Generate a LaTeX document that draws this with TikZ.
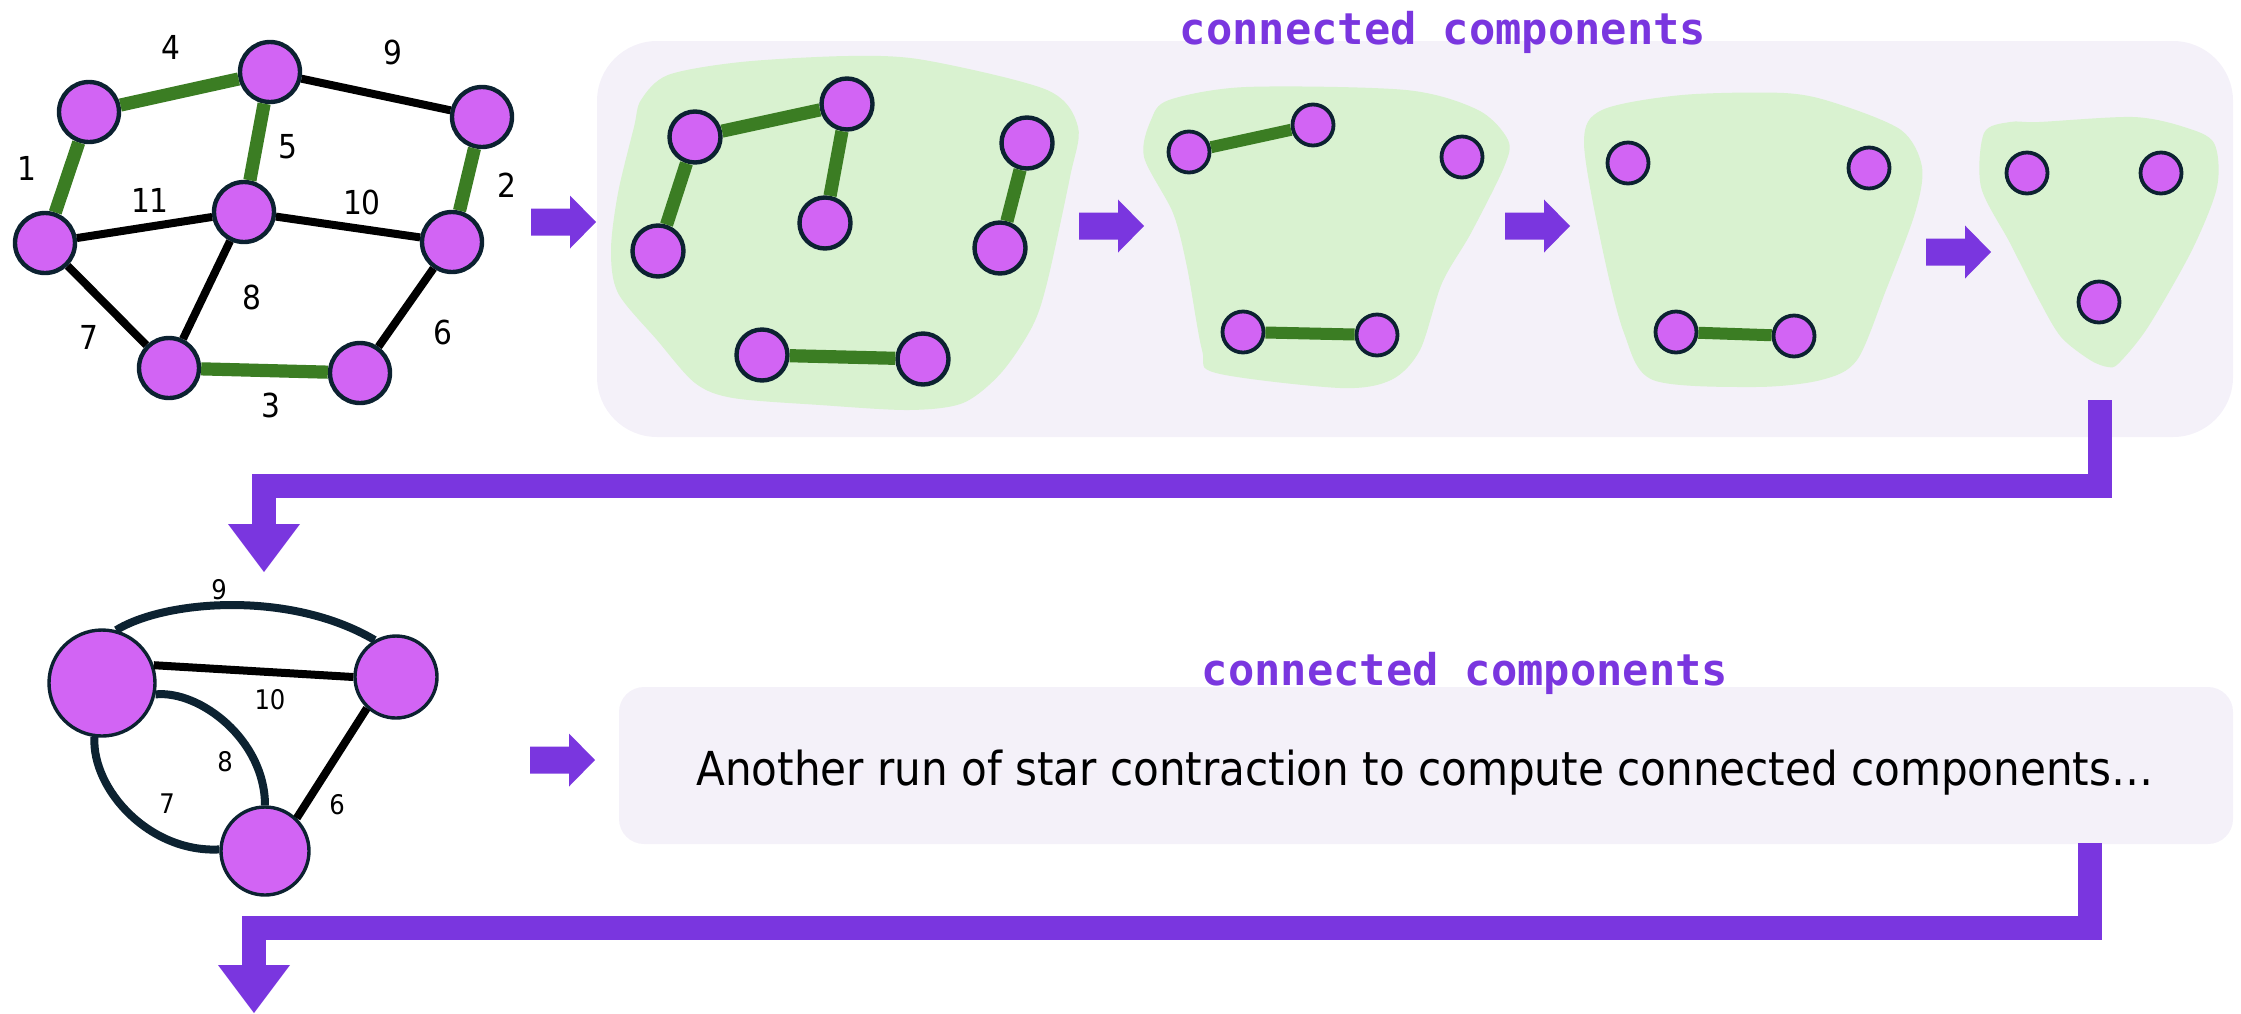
\documentclass[tikz,border=0pt]{standalone}
\usepackage{fontspec}
\setmainfont{DejaVu Sans Condensed}
\newfontfamily\codefont{DejaVu Sans Mono}
\usetikzlibrary{arrows.meta}

\definecolor{vfill}{HTML}{D264F4}
\definecolor{vline}{HTML}{0C2231}
\definecolor{tree}{HTML}{3B7D23}
\definecolor{blobc}{HTML}{D9F2D0}
\definecolor{panelc}{HTML}{F4F1F9}
\definecolor{flow}{HTML}{7A36DF}

\tikzset{
  rarrow/.pic={\fill[flow] (0,-13.5) -- (39,-13.5) -- (39,-26.5) -- (65,0) -- (39,26.5) -- (39,13.5) -- (0,13.5) -- cycle;}
}

\begin{document}
\begin{tikzpicture}[x=0.5pt,y=-0.5pt,
  vtx/.style={circle,fill=vfill,draw=vline,line width=2.2pt,inner sep=0pt,minimum size=30pt},
  vsm/.style={vtx,minimum size=25.5pt},
  vxs/.style={vtx,line width=1.9pt,minimum size=20.5pt},
  tedge/.style={draw=tree,line width=6.6pt},
  tedgesm/.style={draw=tree,line width=6pt},
  gedge/.style={draw=black,line width=4pt},
  cedge/.style={draw=vline,line width=4pt},
  wlabel/.style={font=\fontsize{16.5pt}{19pt}\selectfont,inner sep=0pt},
  wlabelsm/.style={font=\fontsize{13.5pt}{16pt}\selectfont,inner sep=0pt},
  blob/.style={fill=blobc},
  panel/.style={fill=panelc},
  flowarrow/.style={draw=flow,line width=12pt,line join=miter,
    -{Triangle[width=36pt,length=24pt,line width=0pt]}},
  title/.style={text=flow,font=\codefont\bfseries\fontsize{21.85pt}{26pt}\selectfont,
    anchor=base,inner sep=0pt},
]
\useasboundingbox (0,0) rectangle (2241,1013);

% ---------- input graph ----------
\node[vtx] (a1) at (89,112) {};
\node[vtx] (a2) at (270,72) {};
\node[vtx] (a3) at (482,117) {};
\node[vtx] (a4) at (45,243) {};
\node[vtx] (a5) at (244,212) {};
\node[vtx] (a6) at (452,242) {};
\node[vtx] (a7) at (169,368) {};
\node[vtx] (a8) at (360,373) {};

\draw[tedge] (a1) -- (a2);
\draw[gedge] (a2) -- (a3);
\draw[tedge] (a1) -- (a4);
\draw[tedge] (a2) -- (a5);
\draw[tedge] (a3) -- (a6);
\draw[gedge] (a4) -- (a5);
\draw[gedge] (a5) -- (a6);
\draw[gedge] (a4) -- (a7);
\draw[gedge] (a5) -- (a7);
\draw[tedge] (a7) -- (a8);
\draw[gedge] (a6) -- (a8);

\node[wlabel] (w4) at (171,47) {4};
\node[wlabel] (w9) at (393,52) {9};
\node[wlabel] (w1) at (27,168) {1};
\node[wlabel] (w5) at (288,147) {5};
\node[wlabel] (w2) at (507,185) {2};
\node[wlabel] (w11) at (150,200) {11};
\node[wlabel] (w10) at (362,202) {10};
\node[wlabel] (w7) at (89,337) {7};
\node[wlabel] (w8) at (252,297) {8};
\node[wlabel] (w3) at (271,405) {3};
\node[wlabel] (w6) at (443,332) {6};

\pic at (531,222) {rarrow};

% ---------- contraction rounds ----------
\fill[panel,rounded corners=30pt] (597,41) rectangle (2233,437);
\node[title] (t1) at (1443,44) {connected components};

\fill[blob] plot[smooth cycle] coordinates {(641,100) (668,75) (741,62) (848,56) (924,60)
  (1047,90) (1078,127) (1070,177) (1047,283) (1032,327) (1001,373) (963,403) (909,410)
  (820,405) (733,398) (695,383) (657,340) (618,293) (611,250) (618,193) (634,127)};
\node[vsm] (b1) at (695,137) {};
\node[vsm] (b2) at (847,104) {};
\node[vsm] (b3) at (658,251) {};
\node[vsm] (b4) at (825,223) {};
\node[vsm] (b5) at (1027,143) {};
\node[vsm] (b6) at (1000,248) {};
\node[vsm] (b7) at (762,355) {};
\node[vsm] (b8) at (923,359) {};
\draw[tedge] (b1) -- (b2);
\draw[tedge] (b1) -- (b3);
\draw[tedge] (b2) -- (b4);
\draw[tedge] (b5) -- (b6);
\draw[tedge] (b7) -- (b8);

\pic at (1079,226) {rarrow};

\fill[blob] plot[smooth cycle] coordinates {(1169,100) (1246,87) (1406,90) (1478,110)
  (1508,140) (1504,167) (1471,233) (1442,283) (1420,350) (1391,380) (1340,388)
  (1216,373) (1202,350) (1187,267) (1173,213) (1144,157) (1151,120)};
\node[vxs] (c1) at (1189,152) {};
\node[vxs] (c2) at (1313,125) {};
\node[vxs] (c3) at (1462,157) {};
\node[vxs] (c4) at (1243,332) {};
\node[vxs] (c5) at (1377,335) {};
\draw[tedgesm] (c1) -- (c2);
\draw[tedgesm] (c4) -- (c5);

\pic at (1505,226) {rarrow};

\fill[blob] plot[smooth cycle] coordinates {(1602,110) (1682,95) (1784,93) (1835,103)
  (1901,130) (1922,167) (1915,213) (1886,290) (1857,360) (1821,380) (1755,387)
  (1653,380) (1624,333) (1602,247) (1584,143)};
\node[vxs] (d1) at (1628,163) {};
\node[vxs] (d2) at (1869,168) {};
\node[vxs] (d3) at (1676,332) {};
\node[vxs] (d4) at (1794,336) {};
\draw[tedgesm] (d3) -- (d4);

\pic at (1926,252) {rarrow};

\fill[blob] plot[smooth cycle] coordinates {(1984,133) (2010,122) (2039,122) (2133,117)
  (2184,127) (2214,143) (2217,187) (2192,250) (2148,327) (2119,363) (2108,367)
  (2090,360) (2061,337) (2039,300) (2010,243) (1981,187)};
\node[vxs] (e1) at (2027,173) {};
\node[vxs] (e2) at (2161,173) {};
\node[vxs] (e3) at (2099,302) {};

% ---------- contracted graph ----------
\coordinate (f1s) at (2100,400);
\coordinate (f1t) at (264,572);
\draw[flowarrow] (f1s) |- (264,486) -- (f1t);

\node[vtx,line width=1.7pt,minimum size=53pt] (p) at (102,683) {};
\node[vtx,line width=1.7pt,minimum size=41pt] (q) at (396,677) {};
\node[vtx,line width=1.7pt,minimum size=44pt] (r) at (265,851) {};

\draw[cedge] (p.75) .. controls (165,600) and (290,590) .. (q.120);
\draw[gedge] (p.19) -- (q.180);
\draw[cedge] (p.-12) .. controls (200,690) and (265,740) .. (r.north);
\draw[cedge] (p.-98) .. controls (92,790) and (150,853) .. (r.178);
\draw[gedge] (q.-133) -- (r.46);

\node[wlabelsm] (x9) at (219,590) {9};
\node[wlabelsm] (x10) at (270,700) {10};
\node[wlabelsm] (x8) at (225,762) {8};
\node[wlabelsm] (x7) at (167,804) {7};
\node[wlabelsm] (x6) at (337,805) {6};

\pic at (530,760) {rarrow};

% ---------- next round ----------
\fill[panel,rounded corners=12.5pt] (619,687) rectangle (2233,844);
\node[title] (t2) at (1465,685) {connected components};
\node[anchor=base,inner sep=0pt,font=\fontsize{23.4pt}{28pt}\selectfont] (msg) at (1425,785)
  {Another run of star contraction to compute connected components…};

\coordinate (f2s) at (2090,843);
\coordinate (f2t) at (254,1013);
\draw[flowarrow] (f2s) |- (254,928) -- (f2t);
\end{tikzpicture}
\end{document}
